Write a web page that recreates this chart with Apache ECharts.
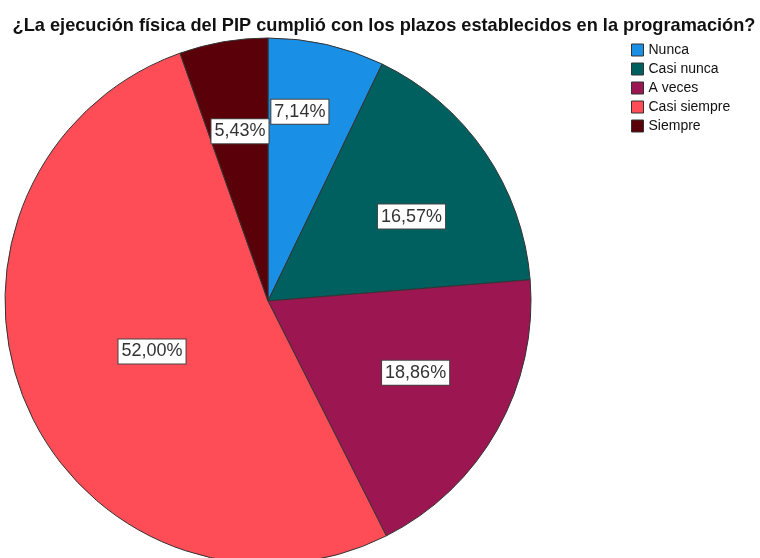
<!DOCTYPE html>
<html>
<head>
<meta charset="utf-8">
<script src="https://cdn.jsdelivr.net/npm/echarts@6/dist/echarts.min.js"></script>
<style>
  html, body { margin: 0; padding: 0; background: #fff; }
  #main { width: 760px; height: 558px; }
</style>
</head>
<body>
<div id="main"></div>
<script type="text/javascript">
// answers (n = 350)
var categories = ['Nunca', 'Casi nunca', 'A veces', 'Casi siempre', 'Siempre'];
var counts = [25, 58, 66, 182, 19];
var colors = ['#1a8fe6', '#005f5f', '#9c1751', '#ff4d57', '#5a0008'];
// label placement: fraction of radius, and small turn (deg) off the slice middle
var labelDist = [0.73, 0.633, 0.624, 0.481, 0.654];
var labelTurn = [-3.3, 4, -3.4, -0.4, 0.4];

var total = counts.reduce(function (a, b) { return a + b; }, 0);
var cx = 268, cy = 301, R = 263;

function pct(v) {
  return (v / total * 100).toFixed(2).replace('.', ',') + '%';
}

// angle of each slice middle, clockwise from 12 o'clock
var midAngles = [];
var acc = 0;
counts.forEach(function (v) {
  midAngles.push((acc + v / 2) / total * 2 * Math.PI);
  acc += v;
});

var myChart = echarts.init(document.getElementById('main'));
myChart.setOption({
  animation: false,
  title: {
    text: '¿La ejecución física del PIP cumplió con los plazos establecidos en la programación?',
    left: 379,
    textAlign: 'center',
    top: 12,
    textStyle: {
      fontFamily: '"Liberation Sans", Arial, sans-serif',
      fontSize: 18.2,
      fontWeight: 'bold',
      color: '#111'
    }
  },
  legend: {
    orient: 'vertical',
    left: 626,
    top: 38,
    itemWidth: 12,
    itemHeight: 12,
    itemGap: 5,
    icon: 'rect',
    data: categories,
    textStyle: { fontFamily: '"Liberation Sans", Arial, sans-serif', fontSize: 14, lineHeight: 14, color: '#111' },
    itemStyle: { borderColor: '#333', borderWidth: 1 }
  },
  series: [{
    type: 'pie',
    center: [cx, cy],
    radius: [0, R],
    startAngle: 90,
    clockwise: true,
    data: categories.map(function (c, i) {
      return { name: c, value: counts[i], itemStyle: { color: colors[i] } };
    }),
    itemStyle: { borderColor: '#333', borderWidth: 1 },
    label: {
      position: 'inside',
      formatter: function (p) { return pct(p.value); },
      fontFamily: '"Liberation Sans", Arial, sans-serif',
      fontSize: 18,
      lineHeight: 21,
      color: '#333',
      backgroundColor: '#fff',
      borderColor: '#444',
      borderWidth: 1,
      padding: [2, 3, 1, 3]
    },
    labelLayout: function (p) {
      var i = p.dataIndex;
      var a = midAngles[i] + labelTurn[i] * Math.PI / 180;
      var d = labelDist[i] * R;
      return {
        x: cx + d * Math.sin(a),
        y: cy - d * Math.cos(a),
        align: 'center',
        verticalAlign: 'middle'
      };
    },
    emphasis: { disabled: true }
  }]
});
</script>
</body>
</html>
